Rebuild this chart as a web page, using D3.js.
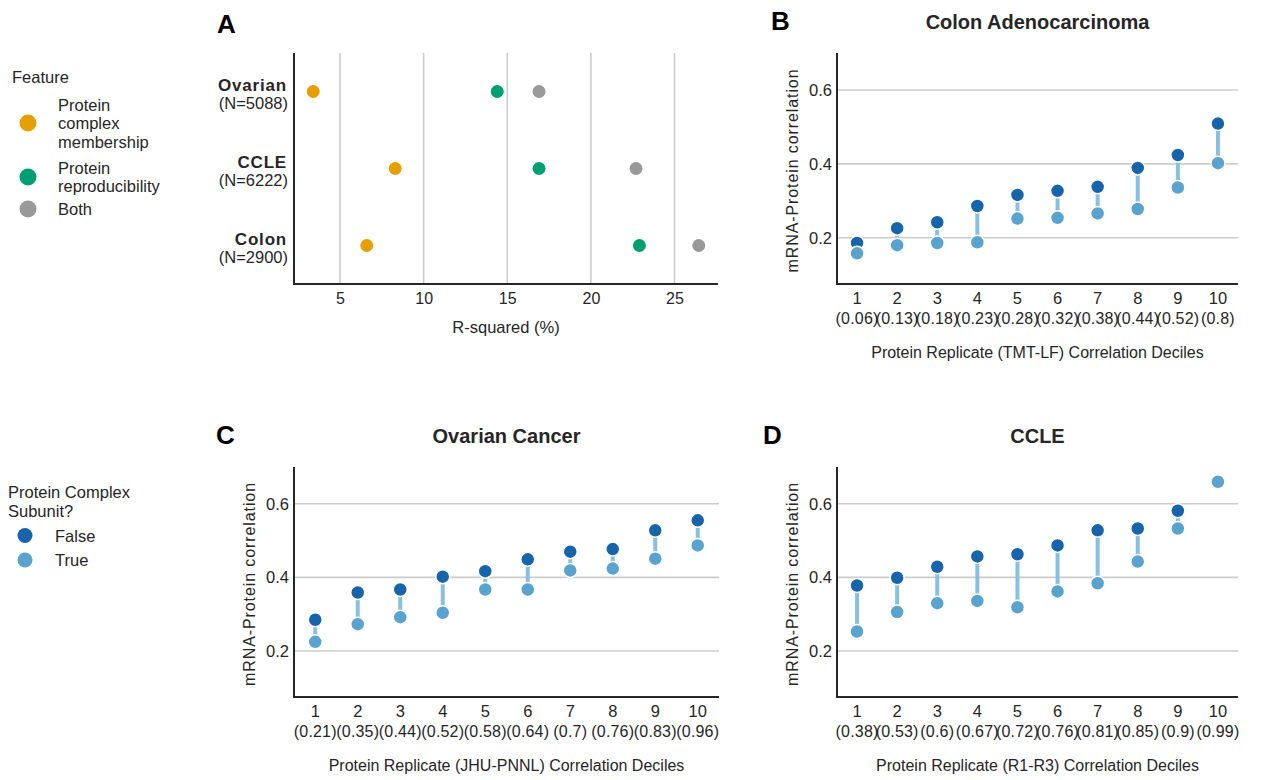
<!DOCTYPE html>
<html>
<head>
<meta charset="utf-8">
<script src="https://cdn.jsdelivr.net/npm/d3@7"></script>
<style>
  body { margin: 0; background: #fff; }
  text { font-family: "Liberation Sans", Arial, sans-serif; fill: #262626; }
</style>
</head>
<body>
<svg id="fig" width="1275" height="780"></svg>
<script>
// ---- panel A data ----
var cohorts = ["Ovarian", "CCLE", "Colon"],
  cohortN = ["(N=5088)", "(N=6222)", "(N=2900)"],
  features = ["Protein complex membership", "Protein reproducibility", "Both"],
  featureColors = ["#E69F00", "#009E73", "#999999"];
var rsqComplex = [3.4, 8.3, 6.6],
  rsqRepro = [14.4, 16.9, 22.9],
  rsqBoth = [16.9, 22.7, 26.45];
var rsqTicks = [5, 10, 15, 20, 25];

// ---- deciles panels ----
var deciles = ["1", "2", "3", "4", "5", "6", "7", "8", "9", "10"];
var colonDecileR = ["(0.06)", "(0.13)", "(0.18)", "(0.23)", "(0.28)", "(0.32)", "(0.38)", "(0.44)", "(0.52)", "(0.8)"],
  colonFalse = [0.186, 0.226, 0.242, 0.286, 0.316, 0.327, 0.338, 0.389, 0.424, 0.509],
  colonTrue = [0.158, 0.180, 0.186, 0.188, 0.252, 0.254, 0.266, 0.278, 0.336, 0.402];
var ovDecileR = ["(0.21)", "(0.35)", "(0.44)", "(0.52)", "(0.58)", "(0.64)", "(0.7)", "(0.76)", "(0.83)", "(0.96)"],
  ovFalse = [0.285, 0.359, 0.367, 0.402, 0.417, 0.449, 0.470, 0.477, 0.528, 0.555],
  ovTrue = [0.225, 0.273, 0.292, 0.304, 0.367, 0.367, 0.419, 0.424, 0.451, 0.487];
var ccleDecileR = ["(0.38)", "(0.53)", "(0.6)", "(0.67)", "(0.72)", "(0.76)", "(0.81)", "(0.85)", "(0.9)", "(0.99)"],
  ccleFalse = [0.378, 0.399, 0.429, 0.457, 0.463, 0.487, 0.528, 0.533, 0.581, null],
  ccleTrue = [0.253, 0.306, 0.330, 0.336, 0.319, 0.362, 0.384, 0.443, 0.533, 0.660];
var corrTicks = [0.2, 0.4, 0.6];
var subunitLabels = ["False", "True"],
  subunitColors = ["#1764ab", "#5aa3cf"];

var svg = d3.select("#fig");
var axisColor = "#262626", gridColor = "#cccccc";
var FONT = "Liberation Sans, Arial, sans-serif";

function panelLetter(x, y, s) {
  svg.append("text").attr("x", x).attr("y", y)
    .attr("font-size", 26).attr("font-weight", "bold").style("fill", "#000").text(s);
}

// ---------- Panel A ----------
(function () {
  var left = 294, right = 718, top = 53, bottom = 284;
  var x = d3.scaleLinear().domain([2.25, 27.6]).range([left, right]);
  var y = d3.scaleBand().domain(cohorts).range([top, bottom]);
  var g = svg.append("g");

  g.selectAll(".grid").data(rsqTicks).enter().append("line")
    .attr("x1", function (d) { return x(d); }).attr("x2", function (d) { return x(d); })
    .attr("y1", top).attr("y2", bottom)
    .attr("stroke", gridColor).attr("stroke-width", 1.6);

  var xa = g.append("g").attr("transform", "translate(0," + bottom + ")")
    .call(d3.axisBottom(x).tickValues(rsqTicks).tickSize(0).tickPadding(9));
  xa.select(".domain").remove();
  xa.selectAll("text").attr("font-size", 16).style("fill", "#262626").attr("font-family", FONT);

  g.append("path").attr("d", "M" + left + "," + top + "V" + bottom + "H" + right)
    .attr("fill", "none").attr("stroke", axisColor).attr("stroke-width", 2);

  cohorts.forEach(function (c, i) {
    var cy = y(c) + y.bandwidth() / 2;
    g.append("text").attr("x", left - 7).attr("y", cy - 1).attr("text-anchor", "end")
      .attr("font-size", 17).attr("font-weight", "bold").attr("letter-spacing", 0.8).text(c);
    g.append("text").attr("x", left - 6).attr("y", cy + 17.5).attr("text-anchor", "end")
      .attr("font-size", 16.5).text(cohortN[i]);
  });

  var series = [rsqComplex, rsqRepro, rsqBoth];
  series.forEach(function (vals, k) {
    g.selectAll(".dot" + k).data(vals).enter().append("circle")
      .attr("cx", function (d) { return x(d); })
      .attr("cy", function (d, i) { return y(cohorts[i]) + y.bandwidth() / 2; })
      .attr("r", 6.5).attr("fill", featureColors[k]);
  });

  g.append("text").attr("x", (left + right) / 2).attr("y", 332.5).attr("text-anchor", "middle")
    .attr("font-size", 16.5).text("R-squared (%)");

  panelLetter(217, 33, "A");

  // legend
  var lg = svg.append("g");
  lg.append("text").attr("x", 12).attr("y", 83).attr("font-size", 16.5).text("Feature");
  var legendLines = [["Protein", "complex", "membership"], ["Protein", "reproducibility"], ["Both"]];
  var legendDotY = [123, 177, 209];
  legendLines.forEach(function (lines, k) {
    lg.append("circle").attr("cx", 28).attr("cy", legendDotY[k]).attr("r", 8.5).attr("fill", featureColors[k]);
    var n = lines.length;
    lines.forEach(function (t, j) {
      lg.append("text").attr("x", 58).attr("y", legendDotY[k] + (j - (n - 1) / 2) * 18.5 + 6)
        .attr("font-size", 16.5).text(t);
    });
  });
})();

// ---------- dumbbell panels ----------
function dumbbell(opt) {
  var left = opt.left, right = opt.right, top = opt.top, bottom = opt.bottom;
  var x = d3.scaleBand().domain(deciles).range([left, right]);
  var y = d3.scaleLinear().domain([0.075, 0.70]).range([bottom, top]);
  var g = svg.append("g");

  g.selectAll(".grid").data(corrTicks).enter().append("line")
    .attr("x1", left).attr("x2", right)
    .attr("y1", function (d) { return y(d); }).attr("y2", function (d) { return y(d); })
    .attr("stroke", gridColor).attr("stroke-width", 1.6);

  var ya = g.append("g").attr("transform", "translate(" + left + ",0)")
    .call(d3.axisLeft(y).tickValues(corrTicks).tickFormat(d3.format(".1f")).tickSize(0).tickPadding(5));
  ya.select(".domain").remove();
  ya.selectAll("text").attr("font-size", 16.5).style("fill", "#262626").attr("font-family", FONT);

  var xa = g.append("g").attr("transform", "translate(0," + bottom + ")")
    .call(d3.axisBottom(x).tickSize(0).tickPadding(8));
  xa.select(".domain").remove();
  xa.selectAll("text").attr("font-size", 16.5).style("fill", "#262626").attr("font-family", FONT);
  xa.selectAll(".tick").append("text")
    .attr("y", 39.5).attr("text-anchor", "middle").attr("font-size", 16).attr("letter-spacing", 0.2)
    .style("fill", "#262626").attr("font-family", FONT)
    .text(function (d, i) { return opt.decR[i]; });

  g.append("path").attr("d", "M" + left + "," + top + "V" + bottom + "H" + right)
    .attr("fill", "none").attr("stroke", axisColor).attr("stroke-width", 2);

  var cx = function (i) { return x(deciles[i]) + x.bandwidth() / 2; };

  // connectors
  opt.fVals.forEach(function (f, i) {
    var t = opt.tVals[i];
    if (f == null || t == null) return;
    g.append("line").attr("x1", cx(i)).attr("x2", cx(i))
      .attr("y1", y(f)).attr("y2", y(t))
      .attr("stroke", "#88c0e1").attr("stroke-width", 4);
  });

  [opt.fVals, opt.tVals].forEach(function (vals, k) {
    g.selectAll(".pt" + k).data(vals.map(function (v, i) { return { v: v, i: i }; })
      .filter(function (d) { return d.v != null; }))
      .enter().append("circle")
      .attr("cx", function (d) { return cx(d.i); })
      .attr("cy", function (d) { return y(d.v); })
      .attr("r", 7).attr("fill", subunitColors[k])
      .attr("stroke", "#fff").attr("stroke-width", 1.5);
  });

  g.append("text").attr("x", (left + right) / 2).attr("y", top - 24).attr("text-anchor", "middle")
    .attr("font-size", 20).attr("font-weight", "bold").text(opt.title);

  g.append("text").attr("transform", "translate(" + (left - 39) + "," + ((top + bottom) / 2 + 2) + ") rotate(-90)")
    .attr("text-anchor", "middle").attr("font-size", 16).attr("letter-spacing", 0.9)
    .text("mRNA-Protein correlation");

  g.append("text").attr("x", (left + right) / 2).attr("y", bottom + 74).attr("text-anchor", "middle")
    .attr("font-size", 16).text(opt.xlabel);

  panelLetter(opt.letterX, top - 23, opt.letter);
}

dumbbell({ left: 837, right: 1238, top: 53, bottom: 284, title: "Colon Adenocarcinoma",
  xlabel: "Protein Replicate (TMT-LF) Correlation Deciles", decR: colonDecileR,
  fVals: colonFalse, tVals: colonTrue, letter: "B", letterX: 771 });
dumbbell({ left: 294, right: 719, top: 467, bottom: 697, title: "Ovarian Cancer",
  xlabel: "Protein Replicate (JHU-PNNL) Correlation Deciles", decR: ovDecileR,
  fVals: ovFalse, tVals: ovTrue, letter: "C", letterX: 216 });
dumbbell({ left: 837, right: 1238, top: 467, bottom: 697, title: "CCLE",
  xlabel: "Protein Replicate (R1-R3) Correlation Deciles", decR: ccleDecileR,
  fVals: ccleFalse, tVals: ccleTrue, letter: "D", letterX: 763 });

// subunit legend
var lg2 = svg.append("g");
lg2.append("text").attr("x", 8).attr("y", 498).attr("font-size", 16.5).text("Protein Complex");
lg2.append("text").attr("x", 8).attr("y", 517).attr("font-size", 16.5).text("Subunit?");
[535.5, 560].forEach(function (cy, k) {
  lg2.append("circle").attr("cx", 25).attr("cy", cy).attr("r", 7.5).attr("fill", subunitColors[k]);
  lg2.append("text").attr("x", 55).attr("y", cy + 6).attr("font-size", 16.5).text(subunitLabels[k]);
});
</script>
</body>
</html>
